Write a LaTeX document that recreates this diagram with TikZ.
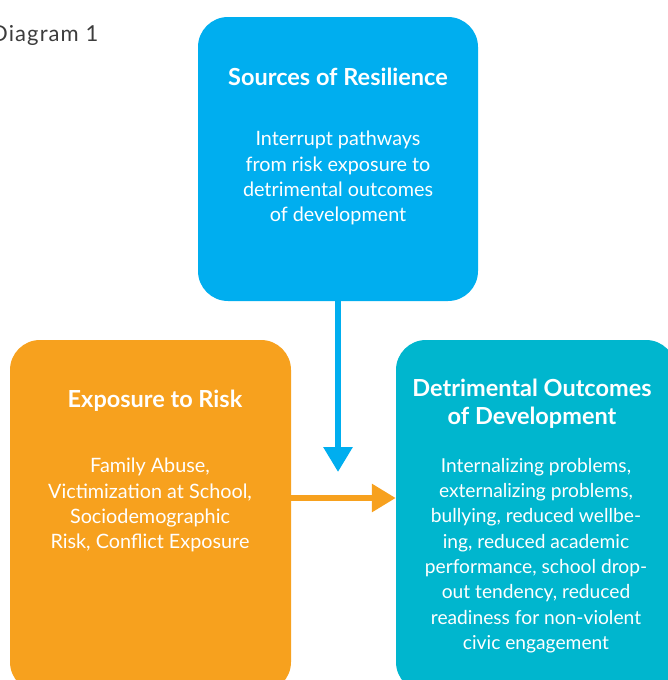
\documentclass[tikz,border=0pt]{standalone}
\usepackage{fontspec}
\setmainfont{Lato}
\usetikzlibrary{arrows.meta}
\definecolor{cblue}{RGB}{0,174,239}
\definecolor{corange}{RGB}{247,161,30}
\definecolor{cteal}{RGB}{0,182,206}
\definecolor{cgray}{RGB}{60,60,60}
\begin{document}
\begin{tikzpicture}[x=1pt,y=-1pt,
  box/.style={rounded corners=30pt, inner sep=0pt, minimum width=280pt},
  head/.style={text=white, font=\fontsize{23.5}{28}\selectfont\bfseries, align=center, inner sep=0pt},
  body/.style={text=white, font=\fontsize{19.8}{25.3}\selectfont, align=center, inner sep=0pt},
  conn/.style={line width=6pt}]
\useasboundingbox (0,0) rectangle (668,680);
\clip (0,0) rectangle (668,680);
\node[box, fill=cblue, minimum height=284pt] (src) at (338,159) {};
\node[box, fill=corange, minimum width=281pt, minimum height=352pt] (risk) at (150.5,516) {};
\node[box, fill=cteal, minimum height=352pt] (out) at (536,516) {};
\node[anchor=west, text=cgray, font=\fontsize{22}{26}\selectfont\addfontfeatures{LetterSpace=5}, inner sep=0pt] (title) at (-9,35) {Diagram 1};
\node[head] (srch) at (338,77) {Sources of Resilience};
\node[body, anchor=north] (srcb) at (338,131) {Interrupt pathways\\from risk exposure to\\detrimental outcomes\\of development};
\node[head] (riskh) at (155,401) {Exposure to Risk};
\node[body, anchor=north] (riskb) at (150,458) {Family Abuse,\\Victimization at School,\\Sociodemographic\\Risk, Conflict Exposure};
\node[head, anchor=north] (outh) at (532,379) {Detrimental Outcomes\\of Development};
\node[body, anchor=north, font=\fontsize{19.2}{25.3}\selectfont] (outb) at (536,458) {Internalizing problems,\\externalizing problems,\\bullying, reduced wellbe-\\ing, reduced academic\\performance, school drop-\\out tendency, reduced\\readiness for non-violent\\civic engagement};
\coordinate (bluetip) at (338,472);
\draw[conn, cblue, -{Triangle[width=28pt,length=25pt]}] (src.south) -- (bluetip);
\draw[conn, corange, -{Triangle[width=27pt,length=24pt]}] ([yshift=18pt]risk.east) -- ([yshift=18pt]out.west);
\end{tikzpicture}
\end{document}
